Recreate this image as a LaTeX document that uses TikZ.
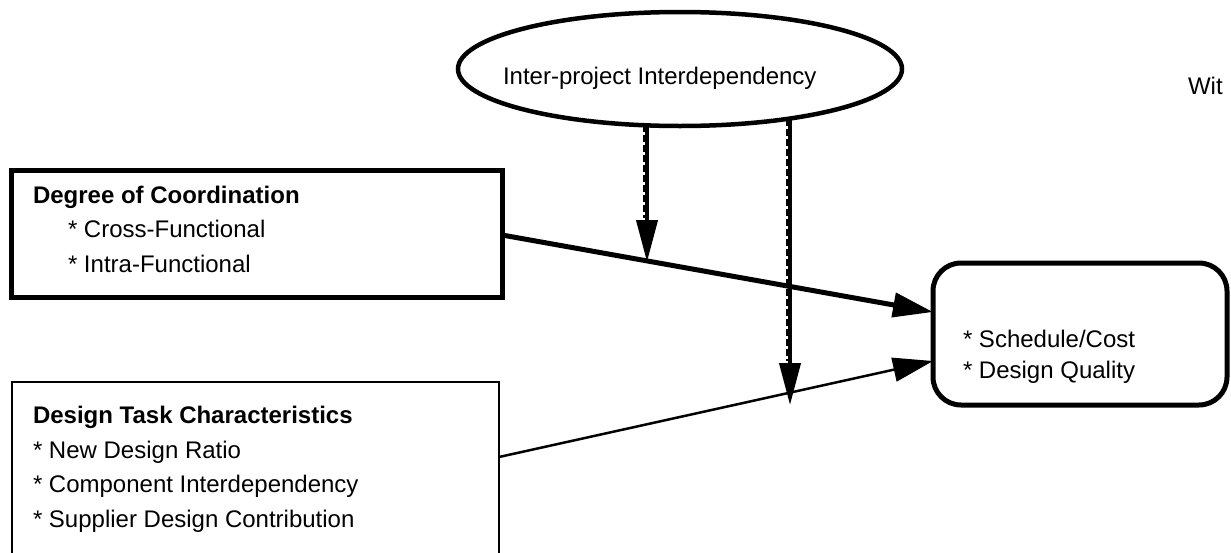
\documentclass[tikz,border=0pt]{standalone}
\usepackage{fontspec}
\setmainfont{Liberation Sans}
\usetikzlibrary{shapes.geometric,arrows.meta}
\begin{document}
\begin{tikzpicture}[x=1pt,y=-1pt,
  every node/.style={inner sep=0pt,outer sep=0pt},
  txt/.style={font=\fontsize{24}{30}\selectfont,anchor=base west},
  hdr/.style={font=\fontsize{24}{30}\selectfont\bfseries,anchor=base west},
  boxA/.style={draw,line width=5pt,rectangle},
  boxB/.style={draw,line width=2pt,rectangle},
  boxC/.style={draw,line width=5pt,rectangle,rounded corners=28pt},
  ell/.style={draw,line width=4.5pt,ellipse},
  thickarrow/.style={line width=5pt,-{Triangle[length=40pt,width=24pt]}},
  thinarrow/.style={line width=2.5pt,-{Triangle[length=40pt,width=24pt]}},
  varrow/.style={line width=4pt,-{Triangle[length=42pt,width=21pt]}},
  vdash/.style={line width=3pt,dash pattern=on 7pt off 3pt}]
\useasboundingbox (0,0) rectangle (1231,552);
\clip (0,0) rectangle (1231,552);

% ellipse
\node[ell,minimum width=444pt,minimum height=114pt] (ip) at (680,69) {};
\node[txt] (iptxt) at (503,84) {Inter-project Interdependency};

% boxes
\node[boxA,minimum width=491pt,minimum height=127pt] (coord) at (256.5,233.5) {};
\node[boxB,minimum width=487pt,minimum height=218pt] (task) at (255.5,491) {};
\node[boxC,minimum width=294pt,minimum height=142pt] (perf) at (1080,334) {};

% texts
\node[hdr] (c0) at (33,203) {Degree of Coordination};
\node[txt] (c1) at (68,237) {* Cross-Functional};
\node[txt] (c2) at (68,272) {* Intra-Functional};

\node[hdr] (t0) at (33,423) {Design Task Characteristics};
\node[txt] (t1) at (33,458) {* New Design Ratio};
\node[txt] (t2) at (33,492) {* Component Interdependency};
\node[txt] (t3) at (33,527) {* Supplier Design Contribution};

\node[txt] (p1) at (963,347) {* Schedule/Cost};
\node[txt] (p2) at (963,378) {* Design Quality};

\node[txt] (wit) at (1188,94) {Wit};

% slanted arrows
\draw[thickarrow] ([yshift=-1.5pt]coord.east) -- ([yshift=22pt]perf.west);
\draw[thinarrow] ([yshift=34pt]task.east) -- ([yshift=-27pt]perf.west);

% moderating arrows
\coordinate (s1) at (647,125.4);
\coordinate (m1) at (647,262);
\coordinate (s2) at (790,118.5);
\coordinate (m2) at (790,405);
\draw[varrow] (s1) -- (m1);
\draw[vdash] ([xshift=-3pt]s1) -- ([xshift=-3pt,yshift=44pt]m1);
\draw[varrow] (s2) -- (m2);
\draw[vdash] ([xshift=-3pt]s2) -- ([xshift=-3pt,yshift=44pt]m2);
\end{tikzpicture}
\end{document}
